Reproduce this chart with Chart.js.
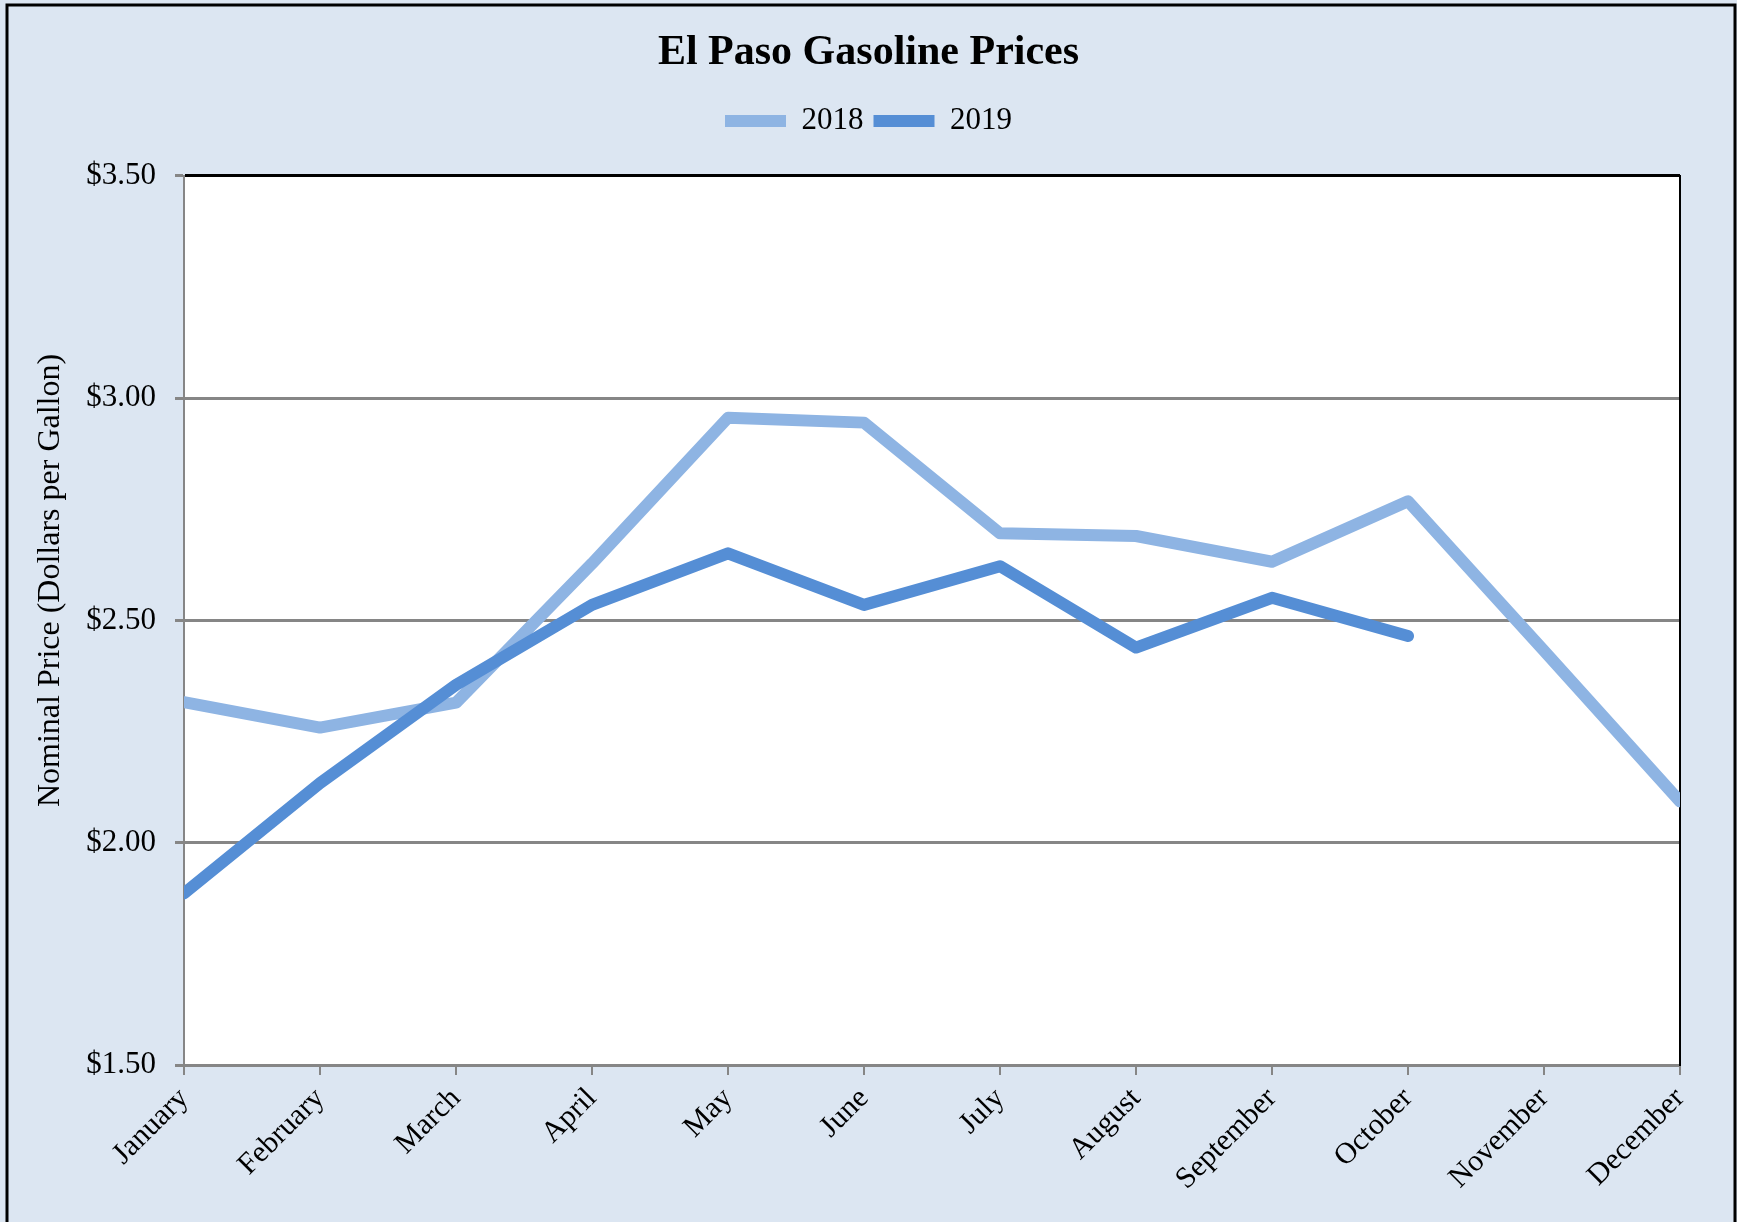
<!DOCTYPE html>
<html>
<head>
<meta charset="utf-8">
<title>El Paso Gasoline Prices</title>
<script src="https://cdn.jsdelivr.net/npm/chart.js@4.4.1/dist/chart.umd.min.js"></script>
<style>
  html, body { margin: 0; padding: 0; background: #dce6f2; overflow: hidden; }
  #wrap { position: absolute; left: 0; top: 0; width: 1737px; height: 1222px; }
</style>
</head>
<body>
<div id="wrap"><canvas id="chart" width="1737" height="1222"></canvas></div>
<script>
const months = ['January', 'February', 'March', 'April', 'May', 'June',
  'July', 'August', 'September', 'October', 'November', 'December'];
const prices2018 = [2.316, 2.259, 2.315, 2.628, 2.956, 2.945, 2.696, 2.690, 2.632, 2.768, 2.432, 2.093];
const prices2019 = [1.886, 2.134, 2.355, 2.535, 2.651, 2.535, 2.622, 2.439, 2.551, 2.465, null, null];
const yTicks = [1.5, 2.0, 2.5, 3.0, 3.5];

const serif = "'Liberation Serif', 'Times New Roman', serif";
const gray = '#868686';

// background, white plot area and outer frame
const frame = {
  id: 'frame',
  beforeLayout(chart) {
    // leave a gap under the legend like the original
    if (chart.legend && !chart.legend._patched) {
      const fit = chart.legend.fit;
      chart.legend.fit = function () { fit.call(this); this.height += 29.5; };
      chart.legend._patched = true;
    }
  },
  beforeDraw(chart) {
    const ctx = chart.ctx;
    const a = chart.chartArea;
    ctx.save();
    ctx.fillStyle = '#dce6f2';
    ctx.fillRect(0, 0, chart.width, chart.height);
    ctx.fillStyle = '#ffffff';
    ctx.fillRect(a.left, a.top, a.right - a.left, a.bottom - a.top);
    ctx.strokeStyle = '#000';
    ctx.lineWidth = 3;
    ctx.strokeRect(7, 5, 1728, 1240);
    ctx.restore();
  }
};

// the axis title sits a bit above the middle in the original
const yTitle = '\u00A0'.repeat(10) + 'Nominal Price (Dollars per Gallon)';

new Chart('chart', {
  type: 'line',
  data: {
    labels: months,
    datasets: [
      {
        label: '2018',
        data: prices2018,
        borderColor: '#8eb4e3',
        backgroundColor: '#8eb4e3',
        borderWidth: 12,
        order: 1
      },
      {
        label: '2019',
        data: prices2019,
        borderColor: '#558ed5',
        backgroundColor: '#558ed5',
        borderWidth: 12,
        order: 0
      }
    ]
  },
  options: {
    responsive: false,
    animation: false,
    devicePixelRatio: 1,
    layout: { padding: 0 },
    elements: {
      point: { radius: 0, hoverRadius: 0 },
      line: { tension: 0, borderCapStyle: 'round', borderJoinStyle: 'round' }
    },
    datasets: { line: { clip: 0, spanGaps: false } },
    plugins: {
      tooltip: { enabled: false },
      title: {
        display: true,
        text: 'El Paso Gasoline Prices',
        color: '#000',
        font: { family: serif, size: 42, weight: 'bold' },
        padding: { top: 28, bottom: 17 }
      },
      legend: {
        display: true,
        position: 'top',
        labels: {
          color: '#000',
          font: { family: serif, size: 31 },
          usePointStyle: true,
          pointStyle: 'line',
          pointStyleWidth: 61,
          padding: 10,
          sort: (a, b) => a.datasetIndex - b.datasetIndex
        }
      }
    },
    scales: {
      x: {
        offset: false,
        grid: { display: true, drawOnChartArea: false, color: gray, lineWidth: 2, tickLength: 10 },
        border: { display: true, color: gray, width: 3 },
        ticks: {
          color: '#000',
          font: { family: serif, size: 30 },
          autoSkip: false,
          maxRotation: 45,
          minRotation: 45,
          padding: 6
        },
        afterFit(scale) { scale.height = 157; }
      },
      y: {
        min: 1.5,
        max: 3.5,
        afterBuildTicks(scale) { scale.ticks = yTicks.map(v => ({ value: v })); },
        grid: {
          color: ctx => (ctx.tick && ctx.tick.value === 3.5) ? '#000' : gray,
          tickColor: gray,
          lineWidth: 3,
          tickLength: 9
        },
        border: { display: true, color: gray, width: 2 },
        ticks: {
          color: '#000',
          font: { family: serif, size: 31 },
          padding: 19,
          callback: v => '$' + Number(v).toFixed(2)
        },
        title: {
          display: true,
          text: yTitle,
          color: '#000',
          font: { family: serif, size: 32 },
          padding: { top: 31, bottom: 0 }
        },
        afterFit(scale) { scale.width = 184; }
      },
      yRight: {
        position: 'right',
        display: true,
        grid: { display: false },
        ticks: { display: false },
        border: { display: true, color: '#000', width: 2 },
        afterFit(scale) { scale.width = 57; }
      }
    }
  },
  plugins: [frame]
});
</script>
</body>
</html>
